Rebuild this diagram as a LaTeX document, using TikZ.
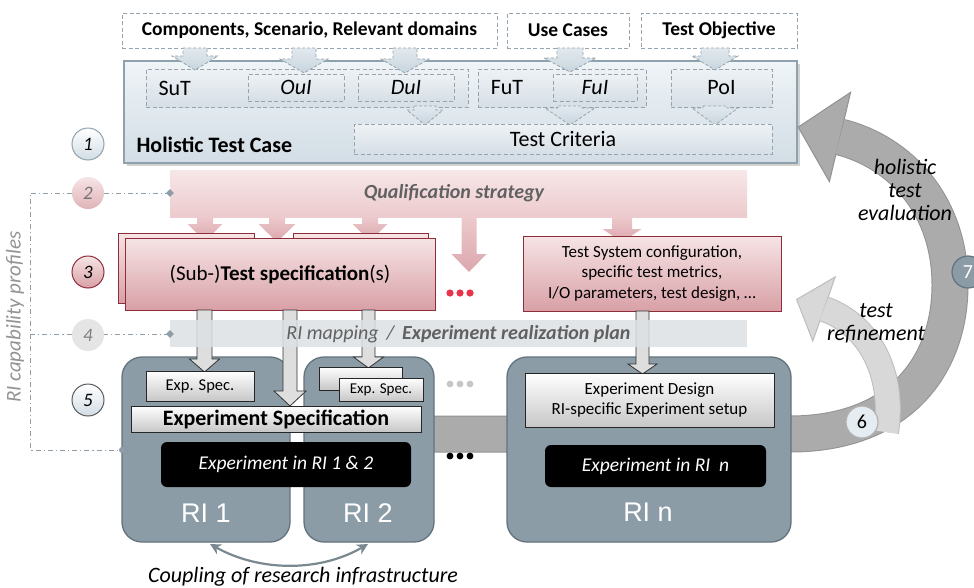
\documentclass[tikz,border=0pt]{standalone}
\usepackage{fontspec}
\setmainfont{Carlito}
\newfontfamily\arialfont{Liberation Sans}
\usetikzlibrary{arrows.meta,shapes.geometric}
\definecolor{hbBorder}{HTML}{8FA1AD}
\definecolor{hbTop}{HTML}{EFF4F7}
\definecolor{hbBot}{HTML}{D2DDE5}
\definecolor{dashGray}{HTML}{95A4AE}
\definecolor{inTop}{HTML}{EEF2F5}
\definecolor{inBot}{HTML}{D6DFE6}
\definecolor{arTop}{HTML}{E2E9EE}
\definecolor{arBot}{HTML}{C8D5DE}
\definecolor{pinkTop}{HTML}{F6E4E5}
\definecolor{pinkBot}{HTML}{D8A0A6}
\definecolor{darkRed}{HTML}{8E2C3A}
\definecolor{qualTop}{HTML}{F7E7E8}
\definecolor{qualBot}{HTML}{ECCACD}
\definecolor{parBot}{HTML}{DBA7AD}
\definecolor{riFill}{HTML}{8C9CA6}
\definecolor{riBorder}{HTML}{63737D}
\definecolor{mapGray}{HTML}{DCE1E4}
\definecolor{txtGray}{HTML}{616161}
\definecolor{bigFill}{HTML}{ABABAB}
\definecolor{bigEdge}{HTML}{929292}
\definecolor{smFill}{HTML}{D8D8D8}
\definecolor{smEdge}{HTML}{BDBDBD}
\definecolor{dotRed}{HTML}{E8334A}
\definecolor{lineGray}{HTML}{8E9DA8}
\newcommand\blkarrow[7]{\path[#1] ({#2-#5/2},#3) -- ({#2+#5/2},#3) -- ({#2+#5/2},{#4-#7}) -- ({#2+#6/2},{#4-#7}) -- (#2,#4) -- ({#2-#6/2},{#4-#7}) -- ({#2-#5/2},{#4-#7}) -- cycle;}
\begin{document}
\begin{tikzpicture}[x=1pt,y=-1pt,
  mybox/.style={inner sep=0, outer sep=0},
  mytop/.style={mybox, draw=dashGray, dash pattern=on 4pt off 2.5pt, line width=0.9, fill=white, font=\bfseries\fontsize{19.5}{23}\selectfont},
  mygrp/.style={mybox, draw=dashGray, dash pattern=on 4pt off 2.5pt, line width=0.9, top color=inTop, bottom color=inBot, font=\fontsize{22}{26}\selectfont},
  myhol/.style={mybox, draw=hbBorder, line width=1.4, top color=hbTop, bottom color=hbBot},
  toparrow/.style={top color=arTop, bottom color=arBot, draw=dashGray, dash pattern=on 3pt off 2pt, line width=0.8},
  pinkarrow/.style={top color=qualBot, bottom color=parBot},
  grayarrow/.style={fill=black!13, draw=black!80, line width=0.8},
  myspec/.style={mybox, draw=darkRed, line width=0.9, top color=pinkTop, bottom color=pinkBot},
  myri/.style={mybox, draw=riBorder, line width=1.3, fill=riFill, rounded corners=20},
  myexp/.style={mybox, draw=black!85, line width=0.9, top color=white, bottom color=black!22},
  myblack/.style={mybox, fill=black, rounded corners=6, text=white, font=\itshape\fontsize{19.5}{23}\selectfont},
  mycirc/.style={circle, minimum size=32, inner sep=0, font=\itshape\fontsize{19}{22}\selectfont},
  mydashdot/.style={draw=lineGray, line width=1, dash pattern=on 5pt off 3pt on 1.2pt off 3pt},
  mydia/.style={diamond, fill=lineGray, minimum size=8, inner sep=0},
  mydot/.style={circle, fill=lineGray, minimum size=6, inner sep=0},
  rilabel/.style={text=white, font=\arialfont\fontsize{27}{30}\selectfont},
  curvetext/.style={align=center, font=\itshape\fontsize{22}{23}\selectfont}
]
\fill[white] (0,0) rectangle (974,587);
\useasboundingbox (0,0) rectangle (974,587);

% ---- left dash-dot lines
\coordinate (p2) at (170,193);
\coordinate (p4) at (170,334);
\coordinate (capA) at (30,193);
\coordinate (capB) at (30,334);
\coordinate (capC) at (30,450);
\coordinate (p5) at (122,450);
\draw[mydashdot] (p2) -- (capA) -- (capC) -- (p5);
\draw[mydashdot] (capB) -- (p4);
\node[rotate=90, text=black!42, font=\itshape\fontsize{21}{24}\selectfont] (capText) at (15,317) {RI capability profiles};

% ---- step circles
\node[mycirc, top color=white, bottom color=hbBot, draw=hbBorder, line width=1] (c1) at (88,144) {1};
\node[mycirc, top color=pinkTop, bottom color=pinkBot!80, text=black!55] (c2) at (88,193) {2};
\node[mycirc, top color=pinkTop, bottom color=pinkBot, draw=darkRed, line width=1] (c3) at (88,272) {3};
\node[mycirc, fill=black!10, text=black!50] (c4) at (88,335) {4};
\node[mycirc, top color=white, bottom color=hbBot, draw=black!65, line width=1] (c5) at (88,400) {5};

% ---- top input boxes
\node[mytop, minimum width=375, minimum height=35] (comp) at (309.5,30.5) {Components, Scenario, Relevant domains};
\node[mytop, minimum width=122, minimum height=35] (usec) at (568,30.5) {Use Cases};
\node[mytop, minimum width=156, minimum height=35] (tobj) at (719,30.5) {Test Objective};

% ---- holistic test case
\fill[black, opacity=0.18] (127,64) rectangle (800,166);
\node[myhol, minimum width=673, minimum height=102] (htc) at (460.5,112) {};
\node[mygrp, minimum width=322, minimum height=38] (sutg) at (307,88) {};
\node[mygrp, minimum width=168, minimum height=38] (futg) at (562,88) {};
\node[mygrp, minimum width=101, minimum height=38] (poi) at (721.5,88) {PoI};
\blkarrow{toparrow}{195}{48}{70}{24}{46}{14}
\blkarrow{toparrow}{304}{48}{73}{24}{48}{14}
\blkarrow{toparrow}{405}{48}{73}{24}{48}{14}
\blkarrow{toparrow}{570}{48}{72}{26}{52}{14}
\blkarrow{toparrow}{715}{48}{70}{28}{46}{14}
\node[mygrp, minimum width=96, minimum height=27] (oui) at (296,87.5) {\itshape OuI};
\node[mygrp, minimum width=96, minimum height=27] (dui) at (406,87.5) {\itshape DuI};
\node[mygrp, minimum width=84, minimum height=27] (fui) at (595,87.5) {\itshape FuI};
\node[anchor=west, font=\fontsize{22}{26}\selectfont] (sut) at (155,88) {SuT};
\node[font=\fontsize{22}{26}\selectfont] (fut) at (507,88) {FuT};
\blkarrow{toparrow}{425}{106}{125}{22}{36}{15}
\blkarrow{toparrow}{570}{106}{125}{24}{50}{17}
\blkarrow{toparrow}{715}{106}{125}{24}{46}{17}
\node[mygrp, minimum width=418, minimum height=30] (crit) at (563,139) {Test Criteria};
\node[anchor=west, font=\bfseries\fontsize{22}{26}\selectfont] (htclabel) at (133,145) {Holistic Test Case};

% ---- qualification strategy
\node[mybox, top color=qualTop, bottom color=qualBot, minimum width=577, minimum height=47] (qual) at (458.5,193.5) {};
\node[text=txtGray, font=\bfseries\itshape\fontsize{20}{24}\selectfont] (qualtext) at (454,193) {Qualification strategy};
\blkarrow{pinkarrow}{205}{216}{241}{16}{35}{17}
\blkarrow{pinkarrow}{277}{216}{242}{16}{37}{18}
\blkarrow{pinkarrow}{370}{216}{241}{16}{35}{17}
\blkarrow{pinkarrow}{469}{216}{272}{15}{35}{18}
\blkarrow{pinkarrow}{622}{216}{242}{20}{39}{13}
\node[mydia] (dia2) at (p2) {};

% ---- test specifications
\node[myspec, minimum width=136, minimum height=70] (tsb1) at (186,268) {};
\node[myspec, minimum width=135, minimum height=70] (tsb2) at (360.5,268) {};
\node[myspec, minimum width=310, minimum height=72] (tsf) at (280,274) {\fontsize{21}{25}\selectfont (Sub-)\textbf{Test specification}(s)};
\node[myspec, minimum width=258, minimum height=75, align=center, font=\fontsize{17}{20.5}\selectfont] (tsys) at (652,273.5) {Test System configuration,\\specific test metrics,\\I/O parameters, test design, \dots};
\fill[dotRed] (450,293) circle (3.6) (460,293) circle (3.6) (470,293) circle (3.6);

% ---- big feedback arrow (behind RI boxes)
\coordinate (bandL) at (420,434);
\coordinate (bandR) at (790,434);
\coordinate (bigBase) at (840,137);
\draw[line width=37, color=bigEdge] (bandL) -- (bandR) .. controls (900,434) and (950,365) .. (950,285) .. controls (950,205) and (900,152) .. (bigBase);
\filldraw[fill=bigFill, draw=bigEdge, line width=1] (850.6,92.3) -- (798.2,127.1) -- (829.4,181.7) -- cycle;
\draw[line width=35, color=bigFill] (bandL) -- (bandR) .. controls (900,434) and (950,365) .. (950,285) .. controls (950,205) and (900,152) .. (bigBase);
% small refinement arrow
\coordinate (smStart) at (886,432);
\coordinate (smBase) at (824,309);
\draw[line width=26, color=smEdge] (smStart) .. controls (895,375) and (870,325) .. (smBase);
\filldraw[fill=smFill, draw=smEdge, line width=1] (835.2,276.9) -- (796.6,299.5) -- (812.8,341.1) -- cycle;
\draw[line width=24, color=smFill] (smStart) .. controls (895,375) and (870,325) .. (smBase);
\node[curvetext] (hte) at (905,190) {holistic\\test\\evaluation};
\node[curvetext] (tref) at (876,323.5) {test\\refinement};
\node[mycirc, fill=hbTop!70!hbBot, draw=black!30, line width=1.2, font=\fontsize{20}{22}\selectfont] (c6) at (862,422) {6};
\node[mycirc, fill=riFill, draw=riBorder, line width=1.2, text=white, font=\fontsize{20}{22}\selectfont] (c7) at (968,272) {7};

% ---- research infrastructures
\node[myri, minimum width=168, minimum height=185] (ri1) at (206,449.5) {};
\node[myri, minimum width=130, minimum height=185] (ri2) at (369,449.5) {};
\node[myri, minimum width=284, minimum height=185] (rin) at (649,449.5) {};
\node[rilabel] (ri1l) at (206,513) {RI 1};
\node[rilabel] (ri2l) at (368,513) {RI 2};
\node[rilabel] (rinl) at (648,512) {RI n};

% ---- gray arrows down
\blkarrow{grayarrow}{204.5}{310}{372}{15}{30}{13}
\blkarrow{grayarrow}{290}{310}{406}{14}{32}{15}
\blkarrow{grayarrow}{368.5}{310}{368}{13}{30}{11}
\blkarrow{grayarrow}{642.5}{311}{374}{13}{29}{10}

% ---- RI mapping band
\node[mybox, fill=mapGray, opacity=0.85, minimum width=577, minimum height=27] (map) at (458.5,333.5) {};
\node[text=txtGray, font=\fontsize{20}{24}\selectfont] (maptext) at (458.5,334) {\itshape RI mapping \,/\, \textbf{Experiment realization plan}};
\node[mydia] (dia4) at (p4) {};
\node[mydot] (dot5) at (p5) {};

% ---- experiment specification boxes
\node[myexp, minimum width=108, minimum height=30, font=\fontsize{16.5}{20}\selectfont] (es1) at (200,386) {Exp. Spec.};
\node[myexp, minimum width=83, minimum height=23] (es2b) at (360.5,378.5) {};
\node[myexp, minimum width=84, minimum height=23, font=\fontsize{15}{18}\selectfont] (es2) at (381,389.5) {Exp. Spec.};
\node[myexp, minimum width=290, minimum height=26, font=\bfseries\fontsize{22}{26}\selectfont] (espec) at (276,419) {Experiment Specification};
\node[myexp, minimum width=249, minimum height=54, align=center, font=\fontsize{17}{20.5}\selectfont] (edes) at (649.5,400) {Experiment Design\\RI-specific Experiment setup};
\node[myblack, minimum width=250, minimum height=45] (ex12) at (286,464.5) {Experiment in RI 1 \& 2};
\node[myblack, minimum width=221, minimum height=42] (exn) at (655.5,466) {Experiment in RI\ \ n};

% ---- dots
\fill[black!22] (450,384) circle (3.4) (460,384) circle (3.4) (470,384) circle (3.4);
\fill[black] (450,456) circle (3.4) (460,456) circle (3.4) (470,456) circle (3.4);

% ---- coupling
\coordinate (cpL) at (210,544);
\coordinate (cpR) at (368,544);
\draw[draw=riBorder!85, line width=2.2, {Stealth[length=11pt,width=11pt]}-{Stealth[length=11pt,width=11pt]}] (cpL) .. controls (260,572) and (320,572) .. (cpR);
\node[font=\itshape\fontsize{22}{26}\selectfont] (coupl) at (303,577) {Coupling of research infrastructure};
\end{tikzpicture}
\end{document}
